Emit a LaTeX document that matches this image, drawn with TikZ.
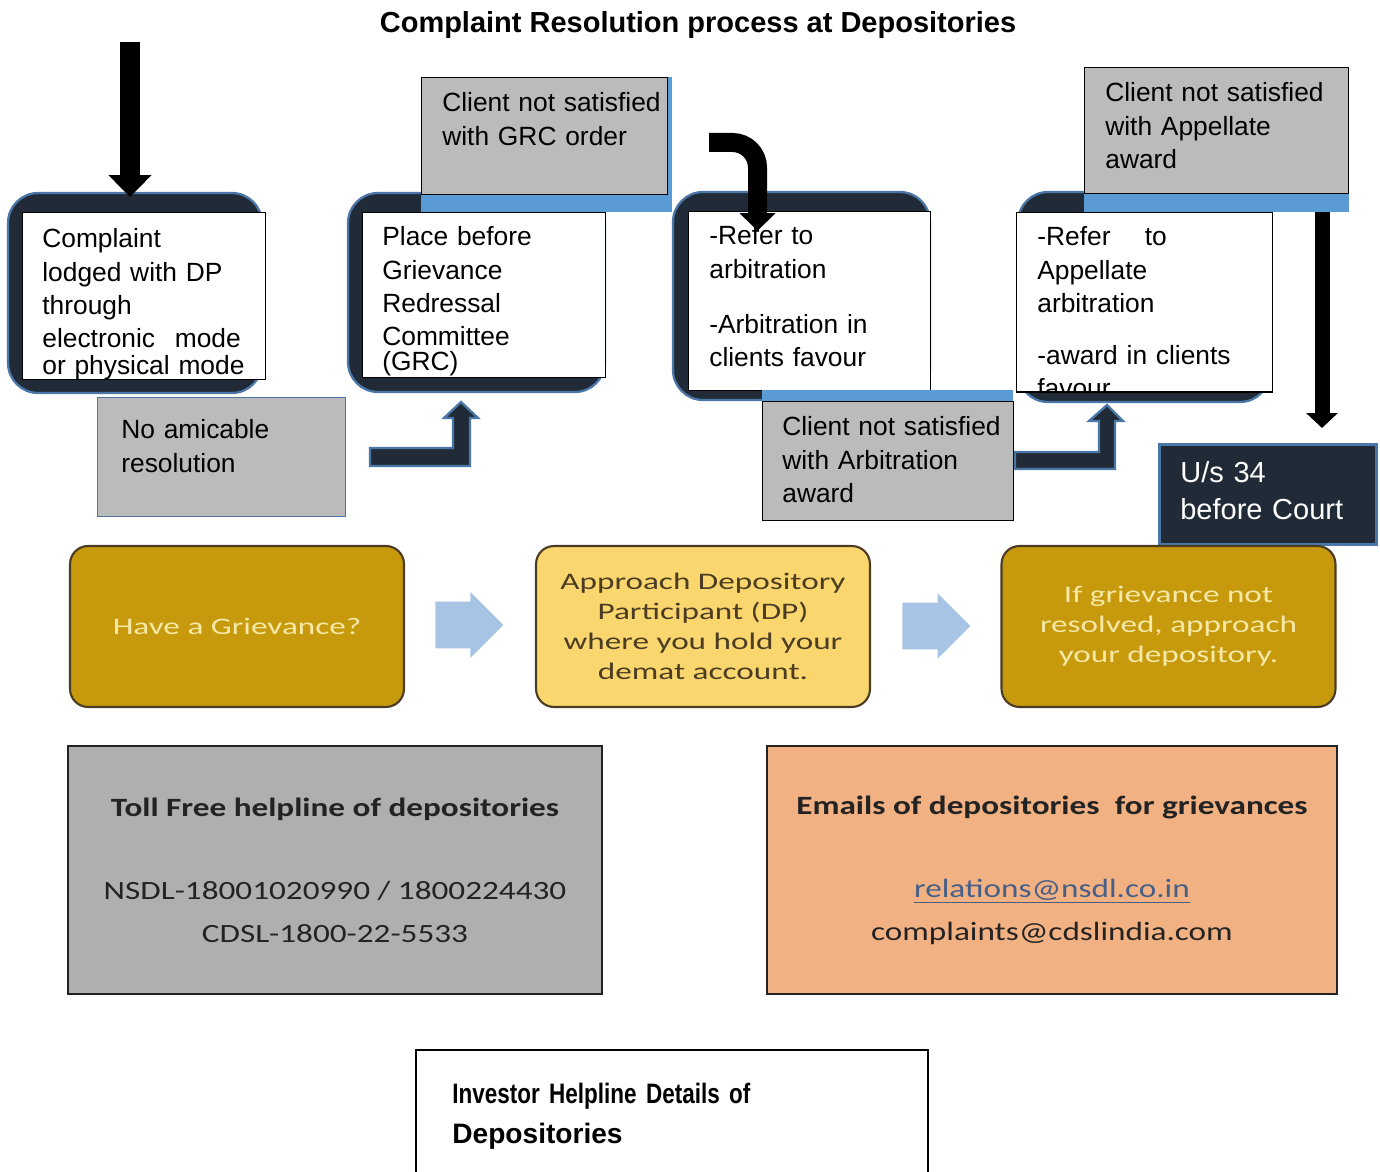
\documentclass[tikz,border=0pt]{standalone}
\usepackage{fontspec}
\setmainfont{Liberation Sans}
\newfontfamily\calfont[FakeStretch=1.4]{Carlito}
\newfontfamily\calwidefont[FakeStretch=1.26]{Carlito}
\newfontfamily\narrowfont[FakeStretch=0.8]{Liberation Sans}
\usetikzlibrary{arrows.meta,shapes.arrows}

\definecolor{navy}{RGB}{33,43,55}
\definecolor{edgeblue}{RGB}{74,118,168}
\definecolor{bandblue}{RGB}{91,155,213}
\definecolor{panelgrey}{RGB}{187,187,187}
\definecolor{darkgold}{RGB}{198,154,12}
\definecolor{lightgold}{RGB}{250,214,110}
\definecolor{paleyellow}{RGB}{246,232,166}
\definecolor{goldedge}{RGB}{75,60,35}
\definecolor{arrowblue}{RGB}{168,196,229}
\definecolor{helpgrey}{RGB}{177,174,174}
\definecolor{peach}{RGB}{242,177,131}
\definecolor{linkblue}{RGB}{70,95,135}
\definecolor{inkgrey}{RGB}{35,35,35}

\tikzset{
  darkbox/.style={draw=edgeblue, fill=navy, line width=1.3pt, rounded corners=0.6cm, inner sep=0pt},
  whitebox/.style={draw=black, fill=white, line width=0.6pt, anchor=north west, inner sep=0pt},
  greybox/.style={draw=black, fill=panelgrey, line width=0.8pt, anchor=north west, inner sep=0pt},
  flowtext/.style={anchor=base west, text width=5cm, align=left, inner sep=0pt,
    font=\fontsize{15}{18.8}\selectfont},
  bigarrow/.style={line width=0.4cm, -{Triangle[width=0.84cm,length=0.44cm]}},
  bentarrow/.style={draw=edgeblue, fill=navy, line width=1.3pt},
  goldbox/.style={draw=goldedge, line width=1.2pt, rounded corners=0.36cm,
    minimum width=6.68cm, minimum height=3.22cm, align=center,
    font=\calfont\fontsize{13.5}{17.07}\selectfont},
  bluearrow/.style={single arrow, fill=arrowblue, inner xsep=0.2cm, inner ysep=0.46cm,
    single arrow head extend=0.19cm, minimum height=1.36cm, anchor=tail},
  infobox/.style={draw=inkgrey, line width=1pt, minimum height=4.96cm, align=center,
    text=inkgrey, font=\calwidefont\fontsize{15}{24.5}\selectfont}
}

\begin{document}
\begin{tikzpicture}[x=0.02cm, y=-0.02cm]
\path[use as bounding box] (0,0) rectangle (1380,1172);
\clip (0,0) rectangle (1380,1172);

\node[font=\fontsize{16.5}{20}\selectfont\bfseries] (title) at (698,25)
  {Complaint Resolution process at Depositories};

% complaint lodged with DP
\node[darkbox, minimum width=5.08cm, minimum height=4cm] (cmpframe) at (135,293) {};
\node[whitebox, minimum width=4.86cm, minimum height=3.34cm] (cmp) at (22,212) {};
\node[flowtext] (cmptext) at (42,248)
  {Complaint\\lodged with DP\\through\\electronic\hspace{0.75em}mode\\[-3.4pt]or physical mode};
\coordinate (start) at (130,42);
\coordinate (startend) at (130,197);
\draw[bigarrow] (start) -- (startend);

\node[anchor=north west, draw=edgeblue, fill=panelgrey, line width=0.8pt, inner sep=0pt,
  minimum width=4.96cm, minimum height=2.38cm] (amicable) at (97,397) {};
\node[flowtext] (amicabletext) at (121,439) {No amicable\\resolution};

% GRC
\node[darkbox, minimum width=5.14cm, minimum height=3.98cm] (grcframe) at (476.5,292.5) {};
\fill[bandblue] (421,77) rectangle (672,212);
\node[greybox, minimum width=4.92cm, minimum height=2.34cm] (grcorder) at (421,77) {};
\node[flowtext] (grcordertext) at (442,112) {Client not satisfied\\with GRC order};
\node[whitebox, minimum width=4.86cm, minimum height=3.30cm] (grc) at (362,212) {};
\node[flowtext] (grctext) at (382,246)
  {Place before\\Grievance\\Redressal\\Committee\\[-4.5pt](GRC)};
\draw[bentarrow] (370,448) -- (453,448) -- (453,418) -- (444,418) -- (461,402)
  -- (478,418) -- (470,418) -- (470,466) -- (370,466) -- cycle;

% arbitration
\node[darkbox, minimum width=5.14cm, minimum height=4.16cm] (arbframe) at (801.5,296) {};
\node[whitebox, minimum width=4.84cm, minimum height=3.58cm] (arb) at (688,211) {};
\node[flowtext] (arbtext) at (709,245)
  {-Refer to\\arbitration\\[13pt]-Arbitration in\\clients favour};
\fill[bandblue] (762,390) rectangle (1013,401);
\node[greybox, minimum width=5.02cm, minimum height=2.38cm] (arbaward) at (762,401) {};
\node[flowtext] (arbawardtext) at (782,436) {Client not satisfied\\with Arbitration\\award};
\coordinate (hookstart) at (709,142.5);
\coordinate (hookend) at (757.5,231);
\draw[line width=0.38cm, rounded corners=0.5cm, -{Triangle[width=0.7cm,length=0.36cm]}]
  (hookstart) -- (757.5,142.5) -- (hookend);
\draw[bentarrow] (1015,452) -- (1099,452) -- (1099,421) -- (1089,421) -- (1107,405)
  -- (1123,421) -- (1115,421) -- (1115,469) -- (1015,469) -- cycle;

% appellate arbitration
\node[darkbox, minimum width=5.04cm, minimum height=4.2cm] (appframe) at (1144,297) {};
\fill[bandblue] (1084,67) rectangle (1349,212);
\node[greybox, minimum width=5.28cm, minimum height=2.52cm] (appaward) at (1084,67) {};
\node[flowtext] (appawardtext) at (1105,102) {Client not satisfied\\with Appellate\\award};
\node[whitebox, minimum width=5.12cm, minimum height=3.58cm] (app) at (1016,212) {};
\begin{scope}
  \clip (1016,212) rectangle (1272,391);
  \node[flowtext] (apptext) at (1037,246)
    {-Refer\hspace{1.3em}to\\Appellate\\arbitration\\[11pt]-award in clients\\favour};
\end{scope}
\draw[line width=0.6pt] (app.south west) -- (app.south east);

\node[anchor=north west, draw=edgeblue, fill=navy, line width=1.5pt, inner sep=0pt,
  minimum width=4.34cm, minimum height=2cm] (court) at (1158,443) {};
\node[flowtext, text=white, font=\fontsize{16.5}{21.6}\selectfont] (courttext) at (1180,482)
  {U/s 34\\before Court};
\coordinate (courtstart) at (1322,212);
\coordinate (courtend) at (1322,428);
\draw[line width=0.3cm, -{Triangle[width=0.62cm,length=0.3cm]}] (courtstart) -- (courtend);

% grievance steps
\node[goldbox, fill=darkgold, text=paleyellow] (griev) at (237,626.5) {Have a Grievance?};
\node[goldbox, fill=lightgold, text=goldedge] (dp) at (703,626.5)
  {Approach Depository\\Participant (DP)\\where you hold your\\demat account.};
\node[goldbox, fill=darkgold, text=paleyellow] (depo) at (1168.5,626.5)
  {If grievance not\\resolved, approach\\your depository.};
\node[bluearrow] (arr1) at (435,625) {};
\node[bluearrow] (arr2) at (902,626) {};

% helpline details
\node[infobox, fill=helpgrey, minimum width=10.68cm] (toll) at (335,870)
  {\textbf{Toll Free helpline of depositories}\\[22.8pt]
   NSDL-18001020990 / 1800224430\\CDSL-1800-22-5533};
\node[infobox, fill=peach, minimum width=11.4cm] (mail) at (1052,870)
  {\textbf{Emails of depositories\hspace{0.3em} for grievances}\\[22.8pt]
   \textcolor{linkblue}{\underline{relations@nsdl.co.in}}\\complaints@cdslindia.com};

\node[anchor=north west, draw=black, line width=1pt, inner sep=0pt,
  minimum width=10.24cm, minimum height=3.2cm] (inv) at (415,1049) {};
\node[anchor=base west, text width=8cm, align=left, inner sep=0pt,
  font=\fontsize{16}{22.8}\selectfont\bfseries] (invtext) at (452,1103)
  {{\narrowfont Investor Helpline Details of}\\Depositories};

\end{tikzpicture}
\end{document}
